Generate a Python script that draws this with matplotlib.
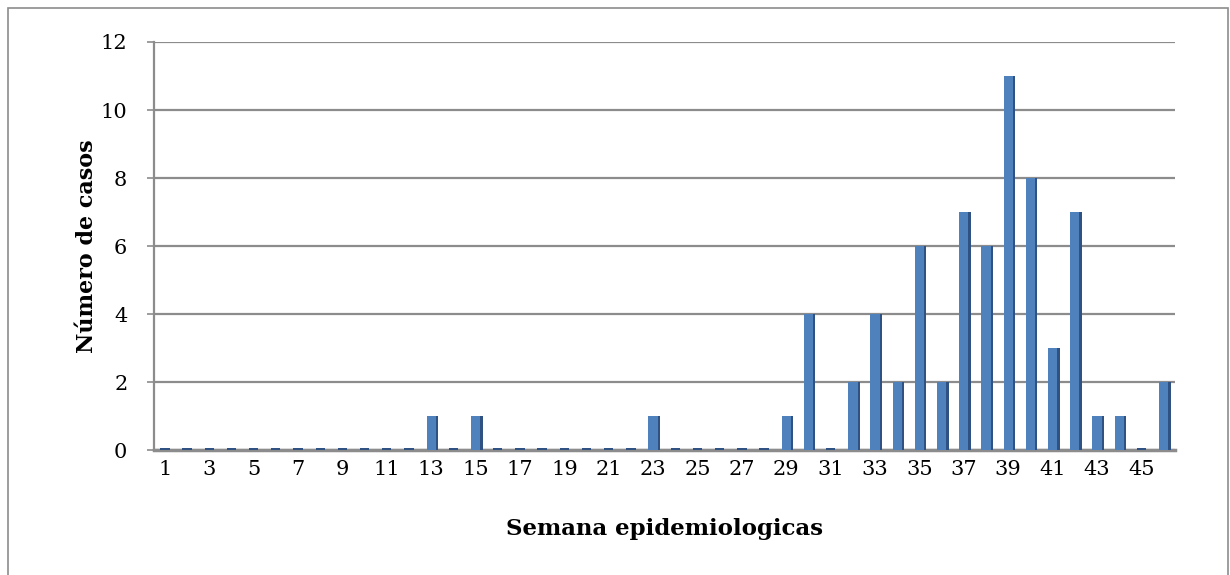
import numpy as np
import matplotlib.pyplot as plt
from matplotlib.patches import Rectangle

# weeks 1..46 and number of cases per week
weeks = np.arange(1, 47)
cases = [0, 0, 0, 0, 0, 0, 0, 0, 0, 0,
         0, 0, 1, 0, 1, 0, 0, 0, 0, 0,
         0, 0, 1, 0, 0, 0, 0, 0, 1, 4,
         0, 2, 4, 2, 6, 2, 7, 6, 11, 8,
         3, 7, 1, 1, 0, 2]
y_ticks = [0, 2, 4, 6, 8, 10, 12]
x_ticks = list(range(1, 46, 2))

FRONT = "#4F81BD"
SIDE = "#2F5282"
GRID = "#8C8C8C"

plt.rcParams["font.family"] = ["DejaVu Serif"]

fig = plt.figure(figsize=(12.3, 5.75), dpi=100)
ax = fig.add_axes([0.125, 0.217, 0.83, 0.71])

vals = np.array(cases, dtype=float)
bw = 0.42
# side face (3D look)
ax.bar(weeks + bw / 2 + 0.05, vals, width=0.11, color=SIDE, zorder=3)
ax.bar(weeks, vals, width=bw, color=FRONT, zorder=4)
# flat marks on the floor for zero weeks
zero = vals == 0
ax.bar(weeks[zero], np.full(zero.sum(), 0.07), width=bw, color=SIDE, zorder=4)

ax.set_xlim(0.5, 46.5)
ax.set_ylim(0, 12)
ax.set_yticks(y_ticks)
ax.set_xticks(x_ticks)
ax.tick_params(axis="y", length=5, color=GRID, width=1.2, labelsize=15, pad=14)
ax.tick_params(axis="x", length=0, labelsize=15, pad=7)

ax.grid(axis="y", color=GRID, linewidth=1.6, zorder=0)
ax.set_axisbelow(True)
for s in ["top", "right"]:
    ax.spines[s].set_visible(False)
ax.spines["left"].set_color(GRID)
ax.spines["left"].set_linewidth(1.6)
ax.spines["bottom"].set_color(GRID)
ax.spines["bottom"].set_linewidth(2.5)

ax.set_ylabel("Número de casos", fontsize=16, fontweight="bold", labelpad=2)
ax.set_xlabel("Semana epidemiologicas", fontsize=16.5, fontweight="bold", labelpad=28)

# outer chart border
fig.patches.append(Rectangle((8 / 1230, -0.01), 1220 / 1230, 1 - 8 / 575 + 0.01,
                             transform=fig.transFigure, fill=False,
                             edgecolor="#8C8C8C", linewidth=1.2))

fig.savefig("out.png", dpi=100)
